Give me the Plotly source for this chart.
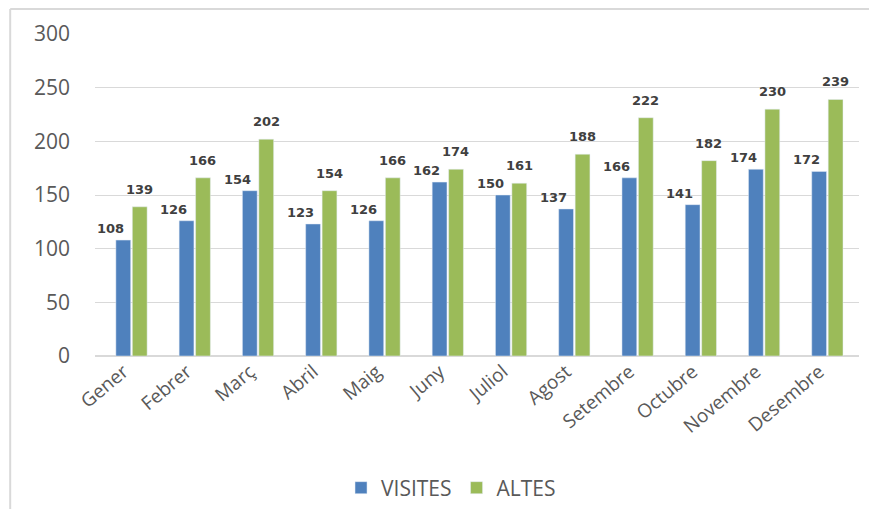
import plotly.graph_objects as go

mesos = ["Gener", "Febrer", "Març", "Abril", "Maig", "Juny", "Juliol",
         "Agost", "Setembre", "Octubre", "Novembre", "Desembre"]
visites = [108, 126, 154, 123, 126, 162, 150, 137, 166, 141, 174, 172]
altes = [139, 166, 202, 154, 166, 174, 161, 188, 222, 182, 230, 239]

label_font = dict(size=13, color="#404040", family="DejaVu Sans", weight="bold")

fig = go.Figure()
fig.add_trace(go.Bar(x=mesos, y=visites, name="VISITES", marker_color="#4F81BD"))
fig.add_trace(go.Bar(x=mesos, y=altes, name="ALTES", marker_color="#9BBB59"))

# etiquetes de dades (com a l'Excel, les de VISITES una mica a l'esquerra)
for mes, v, a in zip(mesos, visites, altes):
    fig.add_annotation(x=mes, y=v, text=str(v), showarrow=False, yanchor="bottom",
                       xshift=-21, yshift=2, font=label_font)
    fig.add_annotation(x=mes, y=a, text=str(a), showarrow=False, yanchor="bottom",
                       xshift=8, yshift=8, font=label_font)

fig.update_layout(
    width=861, height=501,
    margin=dict(l=87, r=10, t=26, b=153, autoexpand=False),
    paper_bgcolor="white", plot_bgcolor="white",
    font=dict(family="Open Sans", color="#595959"),
    barmode="group", bargap=0.48, bargroupgap=0.1,
    legend=dict(orientation="h", x=0.466, xanchor="center", y=-0.41, yanchor="middle",
                font=dict(size=21, color="#595959"), itemwidth=30),
    showlegend=True,
    shapes=[
        dict(type="line", xref="paper", yref="paper", x0=-0.111, x1=1.02,
             y0=1.0776, y1=1.0776, line=dict(color="#D9D9D9", width=2)),
        dict(type="line", xref="paper", yref="paper", x0=-0.111, x1=-0.111,
             y0=1.0776, y1=-0.48, line=dict(color="#D9D9D9", width=2)),
    ],
)
fig.update_yaxes(range=[0, 300], dtick=50, showgrid=True, gridcolor="#D9D9D9",
                 zeroline=True, zerolinecolor="#D9D9D9", zerolinewidth=1.5,
                 tickfont=dict(size=21, color="#595959"), ticklabelstandoff=24,
                 automargin=False)
fig.update_xaxes(tickangle=-40, tickfont=dict(size=19, color="#595959"),
                 ticklabelshift=-8, showline=False, automargin=False)

fig.write_html("out.html")
